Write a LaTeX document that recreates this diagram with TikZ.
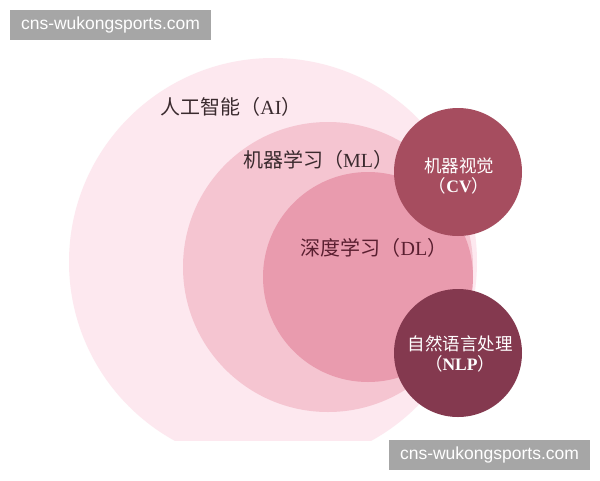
\documentclass[tikz,border=0pt]{standalone}
\usepackage{fontspec}
\setmainfont{Liberation Serif}
\newfontfamily\cjk{Noto Sans CJK SC}
\newfontfamily\wmfont{Liberation Sans}
\definecolor{aipink}{HTML}{FDE8EF}
\definecolor{mlpink}{HTML}{F5C5D1}
\definecolor{dlpink}{HTML}{E99BAE}
\definecolor{cvred}{HTML}{A64D5F}
\definecolor{nlpred}{HTML}{84394F}
\definecolor{darktext}{HTML}{3A2A2E}
\definecolor{dltext}{HTML}{5A1F30}
\definecolor{wmgray}{HTML}{A6A6A6}
\tikzset{
  disc/.style={circle, inner sep=0pt, draw=none},
  lbl/.style={inner sep=0pt, font=\fontsize{20pt}{23pt}\selectfont, text=darktext},
  small/.style={inner sep=0pt, align=center, font=\fontsize{17.5pt}{22pt}\selectfont\bfseries, text=white},
  wmbox/.style={fill=wmgray, text=white, minimum width=201pt, minimum height=30pt, inner sep=0pt, font=\wmfont\fontsize{17.5pt}{19pt}\selectfont}
}
\begin{document}
\begin{tikzpicture}[x=1pt,y=-1pt]
\useasboundingbox (0,0) rectangle (600,480);
\fill[white] (0,0) rectangle (600,480);
\begin{scope}
\clip (0,0) rectangle (600,440);
\node[disc, fill=aipink, minimum size=408pt] (ai) at (273,262) {};
\node[disc, fill=mlpink, minimum size=290pt] (ml) at (328,267) {};
\node[disc, fill=dlpink, minimum size=210pt] (dl) at (368,277) {};
\node[disc, fill=cvred, minimum size=128pt] (cv) at (458,172) {};
\node[disc, fill=nlpred, minimum size=128pt] (nlp) at (458,353) {};
\end{scope}
\node[lbl] (ailbl) at (231,107) {{\cjk 人工智能（}AI{\cjk ）}};
\node[lbl] (mllbl) at (318,160) {{\cjk 机器学习（}ML{\cjk ）}};
\node[lbl, text=dltext] (dllbl) at (374,248) {{\cjk 深度学习（}DL{\cjk ）}};
\node[small] (cvlbl) at (459,176) {{\cjk\mdseries 机器视觉}\\[-2pt]{\cjk\mdseries （}CV{\cjk\mdseries ）}};
\node[small] (nlplbl) at (460,354) {{\cjk\mdseries 自然语言处理}\\[-2pt]{\cjk\mdseries （}NLP{\cjk\mdseries ）}};
\node[wmbox] (wm1) at (110.5,25) {cns-wukongsports.com};
\node[wmbox] (wm2) at (489.5,455) {cns-wukongsports.com};
\end{tikzpicture}
\end{document}
